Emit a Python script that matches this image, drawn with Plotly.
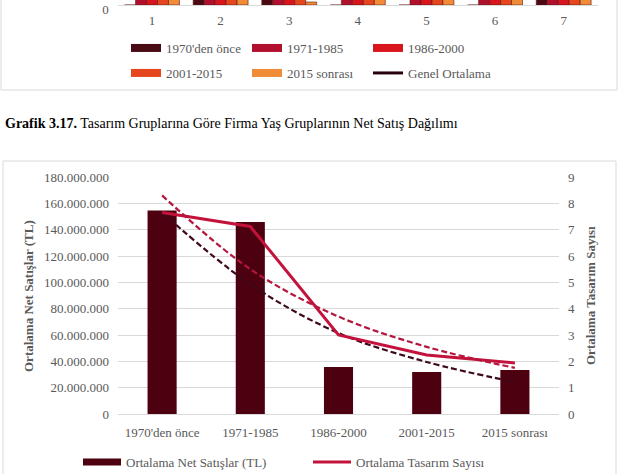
import plotly.graph_objects as go

W, H = 622, 474


def px(x):
    return x / W


def py(y):
    return 1 - y / H


SERIF = "'Liberation Serif', 'Times New Roman', Times, serif"
GRAY = "#595959"
GRID = "#d9d9d9"

# ---------------- main chart data (Grafik 3.17) ----------------
age_groups = ["1970'den önce", "1971-1985", "1986-2000", "2001-2015", "2015 sonrası"]
net_sales = [154.5e6, 145.8e6, 35.7e6, 31.9e6, 33.4e6]
design_count = [7.65, 7.12, 3.0, 2.24, 1.94]
sales_trend = [153e6, 98.5e6, 61.5e6, 39.5e6, 24.3e6]
design_trend = [8.3, 5.5, 3.7, 2.55, 1.75]
sales_ticks = [0, 20e6, 40e6, 60e6, 80e6, 100e6, 120e6, 140e6, 160e6, 180e6]

# ---------------- previous chart fragment (only its base is visible) ----------------
design_groups = ["1", "2", "3", "4", "5", "6", "7"]
top_series = ["1970'den önce", "1971-1985", "1986-2000", "2001-2015", "2015 sonrası"]
top_colors = ["#4a0a14", "#b0102e", "#d8141c", "#e6461e", "#f08c38"]
top_1970 = [0, 5, 5, 0, 0, 0, 5]
top_1971 = [5, 5, 5, 5, 5, 5, 5]
top_1986 = [5, 5, 5, 5, 5, 5, 5]
top_2001 = [5, 5, 5, 5, 5, 5, 5]
top_2015 = [5, 5, 0.6, 5, 5, 5, 5]
top_values = [top_1970, top_1971, top_1986, top_2001, top_2015]
genel_ortalama = [5, 5, 5, 5, 5, 5, 5]

fig = go.Figure()

# main bars
fig.add_trace(go.Bar(
    x=age_groups, y=net_sales, name="Ortalama Net Satışlar (TL)",
    marker=dict(color="#4d0010", line=dict(width=0)), width=0.33,
    xaxis="x", yaxis="y", showlegend=False,
))
fig.add_trace(go.Scatter(
    x=age_groups, y=sales_trend, mode="lines",
    line=dict(color="#3d0a1c", width=2.2, dash="6px,3px", shape="spline"),
    xaxis="x", yaxis="y", showlegend=False, name="Üstel (Ortalama Net Satışlar (TL))",
))
fig.add_trace(go.Scatter(
    x=age_groups, y=design_count, mode="lines", name="Ortalama Tasarım Sayısı",
    line=dict(color="#c3123c", width=3), xaxis="x", yaxis="y2", showlegend=False,
))
fig.add_trace(go.Scatter(
    x=age_groups, y=design_trend, mode="lines",
    line=dict(color="#b5163e", width=2.2, dash="6px,3px", shape="spline"),
    xaxis="x", yaxis="y2", showlegend=False, name="Üstel (Ortalama Tasarım Sayısı)",
))

# main legend entries
fig.add_trace(go.Scatter(x=[None], y=[None], mode="lines", name="Ortalama Net Satışlar (TL)",
                         line=dict(color="#4d0010", width=7), xaxis="x", yaxis="y", legend="legend"))
fig.add_trace(go.Scatter(x=[None], y=[None], mode="lines", name="Ortalama Tasarım Sayısı",
                         line=dict(color="#c3123c", width=3), xaxis="x", yaxis="y", legend="legend"))

# top fragment bars
for name, vals, col in zip(top_series, top_values, top_colors):
    fig.add_trace(go.Bar(
        x=design_groups, y=vals, name=name,
        marker=dict(color=col, line=dict(color="#5a1a12", width=0.6)),
        xaxis="x2", yaxis="y3", showlegend=False,
    ))
fig.add_trace(go.Scatter(x=design_groups, y=genel_ortalama, mode="lines", name="Genel Ortalama",
                         line=dict(color="#2a0010", width=3), xaxis="x2", yaxis="y3", showlegend=False))

# top legend entries (two rows)
for i, (name, col) in enumerate(zip(top_series, top_colors)):
    fig.add_trace(go.Scatter(x=[None], y=[None], mode="lines", name=name,
                             line=dict(color=col, width=8), xaxis="x2", yaxis="y3",
                             legend="legend2" if i < 3 else "legend3"))
fig.add_trace(go.Scatter(x=[None], y=[None], mode="lines", name="Genel Ortalama",
                         line=dict(color="#2a0010", width=3), xaxis="x2", yaxis="y3", legend="legend4"))

tickfont = dict(family=SERIF, size=13, color=GRAY)
legfont = dict(family=SERIF, size=13, color=GRAY)
clear = "rgba(0,0,0,0)"

fig.update_layout(
    template="none",
    width=W, height=H, margin=dict(l=0, r=0, t=0, b=0, autoexpand=False),
    paper_bgcolor="white", plot_bgcolor=clear,
    separators=",.", barmode="group", bargap=0.2, bargroupgap=0,
    xaxis=dict(domain=[px(118), px(559)], anchor="y", showgrid=False, showline=True, linecolor=GRID,
               ticks="", tickfont=tickfont, ticklabelstandoff=6, automargin=False),
    yaxis=dict(domain=[py(414), py(177)], anchor="x", range=[0, 180e6], tickvals=sales_ticks,
               tickformat=",d", showgrid=True, gridcolor=GRID, gridwidth=1, zeroline=False,
               ticks="", tickfont=tickfont, ticklabelstandoff=8, automargin=False),
    yaxis2=dict(overlaying="y", anchor="x", side="right", range=[0, 9], dtick=1, showgrid=False,
                zeroline=False, ticks="", tickfont=tickfont, ticklabelstandoff=8, automargin=False),
    xaxis2=dict(domain=[px(117.7), px(598)], anchor="y3", showgrid=False, showline=True, linecolor=GRID,
                ticks="", tickfont=tickfont, ticklabelstandoff=3, automargin=False),
    yaxis3=dict(domain=[py(5), 1], anchor="x2", range=[0, 1], tickvals=[0], showgrid=False,
                zeroline=False, ticks="", tickfont=tickfont, ticklabelstandoff=8, automargin=False,
                ticklabeloverflow="allow", ticklabelshift=4),
    legend=dict(orientation="h", x=px(78), xanchor="left", y=py(462), yanchor="middle",
                itemwidth=38, entrywidth=177, entrywidthmode="pixels", font=legfont, bgcolor=clear),
    legend2=dict(orientation="h", x=px(126), xanchor="left", y=py(48), yanchor="middle",
                 entrywidth=76, entrywidthmode="pixels", font=legfont, bgcolor=clear),
    legend3=dict(orientation="h", x=px(126), xanchor="left", y=py(73), yanchor="middle",
                 entrywidth=76, entrywidthmode="pixels", font=legfont, bgcolor=clear),
    legend4=dict(orientation="h", x=px(368), xanchor="left", y=py(73), yanchor="middle",
                 font=legfont, bgcolor=clear),
    shapes=[
        dict(type="rect", xref="paper", yref="paper", x0=px(1), x1=px(617), y0=py(90), y1=1.05,
             line=dict(color=GRID, width=1), layer="below"),
        dict(type="rect", xref="paper", yref="paper", x0=px(3), x1=px(616), y0=-0.05, y1=py(161),
             line=dict(color=GRID, width=1), layer="below"),
    ],
    annotations=[
        dict(text="<b>Grafik 3.17.</b> Tasarım Gruplarına Göre Firma Yaş Gruplarının Net Satış Dağılımı",
             xref="paper", yref="paper", x=px(3), y=py(123), xanchor="left", yanchor="middle",
             showarrow=False, font=dict(family=SERIF, size=14, color="black")),
        dict(text="<b>Ortalama Net Satışlar (TL)</b>", textangle=-90, xref="paper", yref="paper",
             x=px(28), y=py(296), xanchor="center", yanchor="middle", showarrow=False,
             font=dict(family=SERIF, size=13, color=GRAY)),
        dict(text="<b>Ortalama Tasarım Sayısı</b>", textangle=-90, xref="paper", yref="paper",
             x=px(590), y=py(296), xanchor="center", yanchor="middle", showarrow=False,
             font=dict(family=SERIF, size=13, color=GRAY)),
    ],
)

fig.write_html(
    "out.html",
    config={"displayModeBar": False},
    post_script="document.body.style.margin='0px';document.body.style.overflow='hidden';",
)
